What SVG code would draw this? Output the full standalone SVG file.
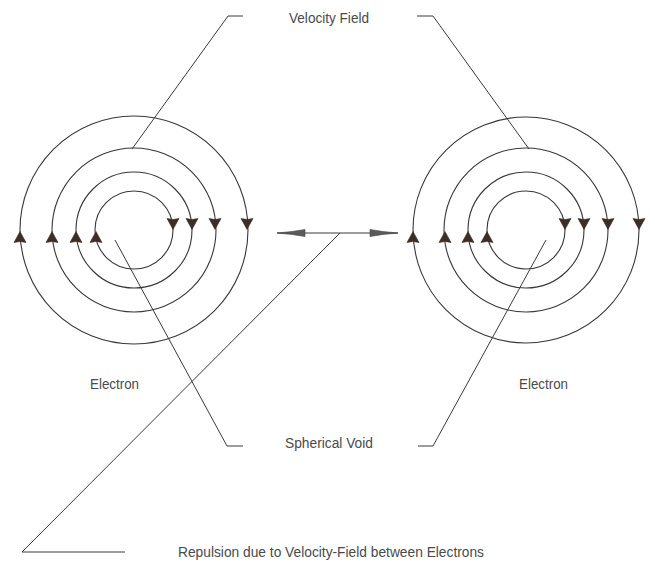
<svg xmlns="http://www.w3.org/2000/svg" width="655" height="571" viewBox="0 0 655 571">
<style>
.ring{fill:none;stroke:#383838;stroke-width:1.1}
.ah{fill:#3b2e28;stroke:#3b2e28;stroke-width:0.6;stroke-linejoin:round}
.lead{fill:none;stroke:#3a3a3a;stroke-width:1}
.lbl{font-family:"Liberation Sans",Arial,sans-serif;font-size:14px;fill:#4a4a4a}
.rep{fill:#5a5a5a;stroke:#444;stroke-width:0.6}
</style>
<defs>
<path id="up" d="M0,-5.5 L6,5.5 L0,4.5 L-6,5.5 Z"/>
<path id="down" d="M0,5.5 L6,-5.5 L0,-4.5 L-6,-5.5 Z"/>
</defs>
<rect width="655" height="571" fill="#ffffff"/>
<g id="electron-left">
<circle class="ring" cx="134" cy="230" r="114"/>
<circle class="ring" cx="134" cy="230" r="82"/>
<circle class="ring" cx="134" cy="230" r="58"/>
<circle class="ring" cx="134" cy="230" r="39"/>
<g class="ah">
<use href="#up" x="20" y="237"/>
<use href="#up" x="52" y="237"/>
<use href="#up" x="76" y="237"/>
<use href="#up" x="96" y="237"/>
<use href="#down" x="173" y="224"/>
<use href="#down" x="192" y="224"/>
<use href="#down" x="215" y="224"/>
<use href="#down" x="247" y="224"/>
</g>
</g>
<g id="electron-right">
<circle class="ring" cx="526" cy="230" r="113"/>
<circle class="ring" cx="526" cy="230" r="82"/>
<circle class="ring" cx="526" cy="230" r="58"/>
<circle class="ring" cx="526" cy="230" r="39"/>
<g class="ah">
<use href="#up" x="413" y="237"/>
<use href="#up" x="445" y="237"/>
<use href="#up" x="468" y="237"/>
<use href="#up" x="487" y="237"/>
<use href="#down" x="565" y="224"/>
<use href="#down" x="584" y="224"/>
<use href="#down" x="608" y="224"/>
<use href="#down" x="639" y="224"/>
</g>
</g>
<g id="connectors">
<polyline class="lead" points="243,16 228,16 132,149"/>
<polyline class="lead" points="417,16 433,16 529,149"/>
<polyline class="lead" points="243,446 227,446 115,240"/>
<polyline class="lead" points="418,446 433,446 546,240"/>
<polyline class="lead" points="125,552 22,552 340,233"/>
<line class="lead" x1="277" y1="233" x2="398" y2="233"/>
<polygon class="rep" points="277,233 292,231.5 305,229.5 305,236.5 292,234.5"/>
<polygon class="rep" points="398,233 383,231.5 370,229.5 370,236.5 383,234.5"/>
</g>
<g id="labels">
<text id="label-velocity-field" class="lbl" x="289" y="23" textLength="80" lengthAdjust="spacingAndGlyphs">Velocity Field</text>
<text id="label-spherical-void" class="lbl" x="285" y="448" textLength="88" lengthAdjust="spacingAndGlyphs">Spherical Void</text>
<text id="label-electron-left" class="lbl" x="90" y="389" textLength="49" lengthAdjust="spacingAndGlyphs">Electron</text>
<text id="label-electron-right" class="lbl" x="519" y="389" textLength="49" lengthAdjust="spacingAndGlyphs">Electron</text>
<text id="label-repulsion" class="lbl" x="178" y="557" textLength="306" lengthAdjust="spacingAndGlyphs">Repulsion due to Velocity-Field between Electrons</text>
</g>
</svg>
